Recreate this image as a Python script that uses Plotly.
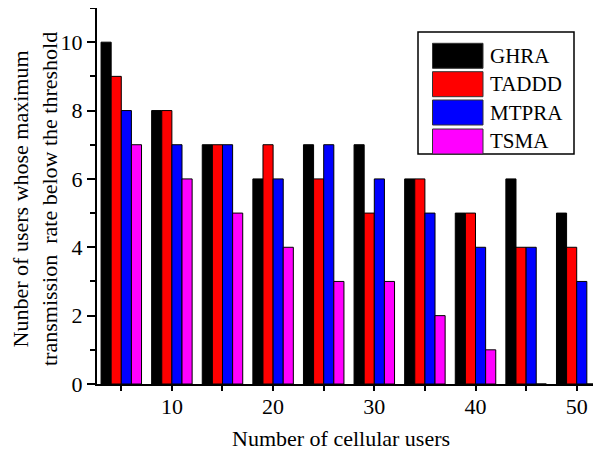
import plotly.graph_objects as go

# ---- data ----
users = [5, 10, 15, 20, 25, 30, 35, 40, 45, 50]
series_names = ["GHRA", "TADDD", "MTPRA", "TSMA"]
ghra = [10, 8, 7, 6, 7, 7, 6, 5, 6, 5]
taddd = [9, 8, 7, 7, 6, 5, 6, 5, 4, 4]
mtpra = [8, 7, 7, 6, 7, 6, 5, 4, 4, 3]
tsma = [7, 6, 5, 4, 3, 3, 2, 1, 0, 0]
colors = ["#000000", "#FF0000", "#0000FF", "#FF00FF"]
x_ticks = [10, 20, 30, 40, 50]
y_ticks = [0, 2, 4, 6, 8, 10]

OFF = 8  # page body margin
W, H = 593, 443
L, R, T, B = 89, 0, 0, 67
FONT = "Liberation Serif, Times New Roman, serif"

def px(x):
    return (x - OFF - L) / (W - L - R)

def py(y):
    return (H - B - (y - OFF)) / (H - T - B)

fig = go.Figure()
for name, vals, c in zip(series_names, [ghra, taddd, mtpra, tsma], colors):
    fig.add_trace(go.Bar(x=users, y=vals, name=name,
                         marker=dict(color=c, line=dict(color="#000000", width=1))))

fig.update_layout(
    width=W, height=H,
    margin=dict(l=L, r=R, t=T, b=B),
    paper_bgcolor="white", plot_bgcolor="white",
    barmode="group", bargap=0.2, bargroupgap=0,
    showlegend=False,
    font=dict(family=FONT, size=22, color="black"),
)
fig.update_xaxes(
    range=[2.6, 52.4], tickvals=x_ticks, ticks="outside", ticklen=5, tickwidth=1.5,
    tickcolor="black", showline=True, linecolor="black", linewidth=2, showgrid=False,
    zeroline=False, tickfont=dict(size=22), ticklabelstandoff=-3,
    minor=dict(dtick=5, tick0=0, ticks="outside", ticklen=5, tickwidth=1.5, tickcolor="black", showgrid=False),
)
fig.update_yaxes(
    range=[0, 11], tickvals=y_ticks, ticks="outside", ticklen=8, tickwidth=1.5,
    tickcolor="black", showline=True, linecolor="black", linewidth=2, showgrid=False,
    zeroline=False, tickfont=dict(size=22),
    minor=dict(dtick=1, tick0=1, ticks="outside", ticklen=5, tickwidth=1.5, tickcolor="black", showgrid=False),
)

annotations = [
    dict(text="Number of cellular users", xref="paper", yref="paper",
         x=px(340.5), y=py(439), xanchor="center", yanchor="middle",
         showarrow=False, font=dict(size=22)),
    dict(text="Nunber of users whose maximum<br>transmission \u00a0rate below the threshold",
         xref="paper", yref="paper", x=px(35), y=py(199), xanchor="center", yanchor="middle",
         textangle=-90, showarrow=False, font=dict(size=22)),
]

# custom legend with large swatches
shapes = [dict(type="rect", xref="paper", yref="paper",
               x0=px(418), x1=px(574), y0=py(154), y1=py(32),
               line=dict(color="black", width=1.5), fillcolor="white")]
row_top = [43.3, 71.7, 100, 129]
for i, (name, c) in enumerate(zip(series_names, colors)):
    y0 = row_top[i]
    shapes.append(dict(type="rect", xref="paper", yref="paper",
                       x0=px(432.5), x1=px(483), y0=py(y0 + 25), y1=py(y0),
                       line=dict(color="#333333", width=1), fillcolor=c))
    annotations.append(dict(text=name, xref="paper", yref="paper",
                            x=px(488), y=py(y0 + 12.5), xanchor="left", yanchor="middle",
                            showarrow=False, font=dict(size=21)))

fig.update_layout(shapes=shapes, annotations=annotations)
fig.write_html("out.html")
